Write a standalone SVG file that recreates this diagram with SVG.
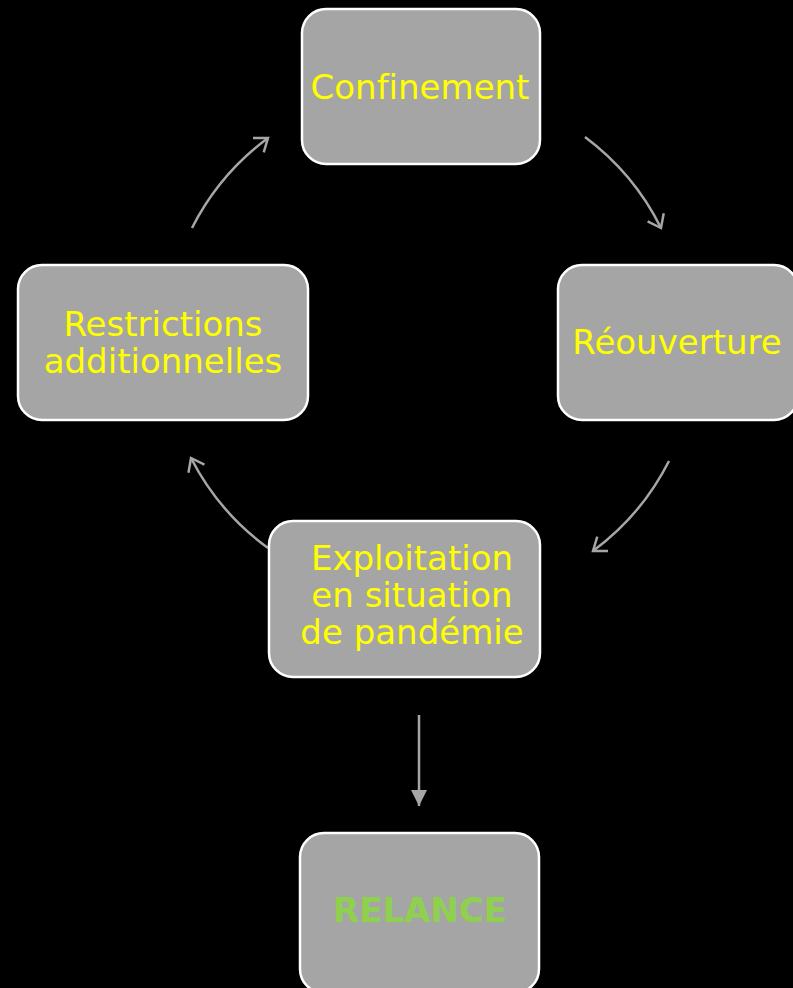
<svg xmlns="http://www.w3.org/2000/svg" width="793" height="988" viewBox="0 0 793 988">
<style>
.box{fill:#A5A5A5;stroke:#FFFFFF;stroke-width:2.5}
.t{font-family:"DejaVu Sans","Verdana",sans-serif;font-size:34px;fill:#FFFF00;text-anchor:middle;font-variant-ligatures:none;font-feature-settings:"liga" 0,"clig" 0}
.b{font-family:"DejaVu Sans","Verdana",sans-serif;font-size:34px;font-weight:bold;fill:#8FD14F;text-anchor:middle}
.c{fill:none;stroke:#A6A6A6;stroke-width:2.5}
</style>
<defs>
<marker id="open" markerUnits="userSpaceOnUse" markerWidth="30" markerHeight="30" refX="15" refY="15" orient="auto" overflow="visible">
<polyline points="3,6 15,15 3,24" fill="none" stroke="#A6A6A6" stroke-width="2.5"/>
</marker>
<marker id="solid" markerUnits="userSpaceOnUse" markerWidth="20" markerHeight="20" refX="16" refY="8" orient="auto" overflow="visible">
<polygon points="0,0 16,8 0,16" fill="#A6A6A6"/>
</marker>
</defs>
<rect width="793" height="988" fill="#000000"/>
<g id="connectors">
<path class="c" d="M192,228 A255,255 0 0 1 268,138" marker-end="url(#open)"/>
<path class="c" d="M585,137 A255,255 0 0 1 661,228" marker-end="url(#open)"/>
<path class="c" d="M669,461 A255,255 0 0 1 593,551" marker-end="url(#open)"/>
<path class="c" d="M268,548 A255,255 0 0 1 191,458" marker-end="url(#open)"/>
<path class="c" d="M419,715 L419,806" marker-end="url(#solid)"/>
</g>
<g id="confinement">
<rect class="box" x="302" y="9" width="238" height="155" rx="24"/>
<text class="t" x="420" y="99">Confinement</text>
</g>
<g id="reouverture">
<rect class="box" x="558" y="265" width="240" height="155" rx="24"/>
<text class="t" x="677" y="354">Réouverture</text>
</g>
<g id="restrictions">
<rect class="box" x="18" y="265" width="290" height="155" rx="24"/>
<text class="t" x="163" y="336">Restrictions</text>
<text class="t" x="163" y="373">additionnelles</text>
</g>
<g id="exploitation">
<rect class="box" x="269" y="521" width="271" height="156" rx="24"/>
<text class="t" x="412" y="570">Exploitation</text>
<text class="t" x="412" y="607">en situation</text>
<text class="t" x="412" y="644">de pandémie</text>
</g>
<g id="relance">
<rect class="box" x="300" y="833" width="239" height="160" rx="24"/>
<text class="b" x="420" y="922">RELANCE</text>
</g>
</svg>
